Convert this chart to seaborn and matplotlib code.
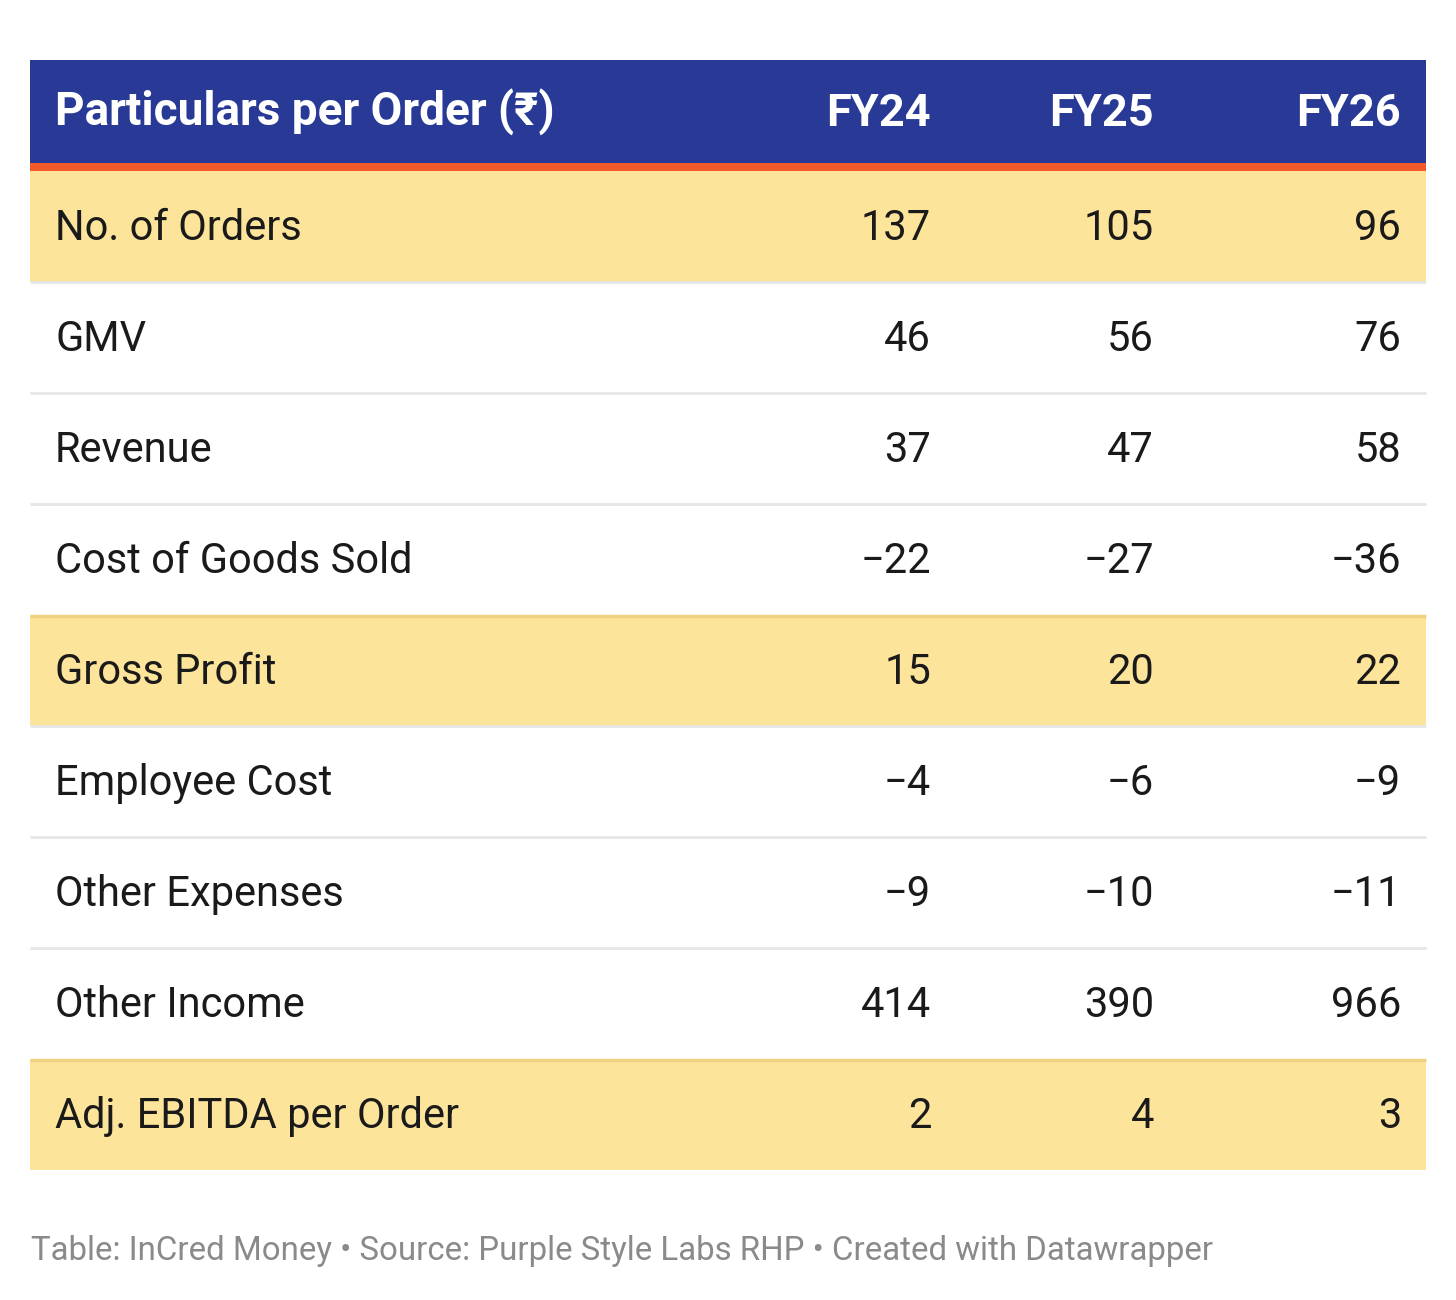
import matplotlib
matplotlib.use("Agg")
import matplotlib.pyplot as plt
import seaborn as sns
import pandas as pd

# ---- data ----
header_label = "Particulars per Order (₹)"
columns = ["FY24", "FY25", "FY26"]
categories = ["No. of Orders", "GMV", "Revenue", "Cost of Goods Sold", "Gross Profit",
              "Employee Cost", "Other Expenses", "Other Income", "Adj. EBITDA per Order"]
fy24 = [137, 46, 37, -22, 15, -4, -9, 414, 2]
fy25 = [105, 56, 47, -27, 20, -6, -10, 390, 4]
fy26 = [96, 76, 58, -36, 22, -9, -11, 966, 3]
highlight = [True, False, False, False, True, False, False, False, True]
footer = "Table: InCred Money • Source: Purple Style Labs RHP • Created with Datawrapper"

df = pd.DataFrame({"Particulars": categories, "FY24": fy24, "FY25": fy25, "FY26": fy26,
                   "highlight": highlight})

sns.set_theme(style="white")
plt.rcParams["font.family"] = ["Roboto", "DejaVu Sans"]

W, H = 1456, 1300
fig = plt.figure(figsize=(W / 100, H / 100), dpi=100)
fig.patch.set_facecolor("white")
ax = fig.add_axes([0, 0, 1, 1])
ax.set_xlim(0, W)
ax.set_ylim(H, 0)
ax.axis("off")

# layout
LEFT, RIGHT = 30, 1426
HEAD_TOP, HEAD_BOT = 60, 163
ORANGE_H = 8
ROW_TOP = HEAD_BOT + ORANGE_H
ROW_H = 111
LABEL_X = 55
COL_RIGHT = [931, 1154, 1401]

BLUE = "#283a96"
ORANGE = "#f15a29"
YELLOW = "#fde49b"
GOLD_LINE = "#f0d382"
GRAY_LINE = "#e6e6e6"
TEXT = "#1a1a1a"

# header
ax.barh(y=(HEAD_TOP + HEAD_BOT) / 2, width=RIGHT - LEFT, left=LEFT,
        height=HEAD_BOT - HEAD_TOP, color=BLUE, linewidth=0)
ax.barh(y=HEAD_BOT + ORANGE_H / 2, width=RIGHT - LEFT, left=LEFT,
        height=ORANGE_H, color=ORANGE, linewidth=0)
hc = (HEAD_TOP + HEAD_BOT) / 2
ax.text(LABEL_X, hc + 14.5, header_label, color="white", fontsize=33, fontweight="bold",
        ha="left", va="baseline")
for c, xr in zip(columns, COL_RIGHT):
    ax.text(xr, hc + 14.5, c, color="white", fontsize=32.5, fontweight="bold",
            ha="right", va="baseline")


def fmt(v):
    return f"{v}" if v >= 0 else f"\u2212{abs(v)}"


for i, row in df.iterrows():
    top = ROW_TOP + i * ROW_H
    bot = top + ROW_H
    cy = (top + bot) / 2
    if row["highlight"]:
        ax.barh(y=cy, width=RIGHT - LEFT, left=LEFT, height=ROW_H, color=YELLOW, linewidth=0)
        if i > 0:
            ax.plot([LEFT, RIGHT], [top + 1, top + 1], color=GOLD_LINE, lw=2.5,
                    solid_capstyle="butt")
    if i < len(df) - 1 and not highlight[i + 1]:
        ax.plot([LEFT, RIGHT], [bot, bot], color=GRAY_LINE, lw=2, solid_capstyle="butt")
    ax.text(LABEL_X, cy + 13.5, row["Particulars"], color=TEXT, fontsize=30,
            ha="left", va="baseline")
    for c, xr in zip(columns, COL_RIGHT):
        ax.text(xr, cy + 13.5, fmt(row[c]), color=TEXT, fontsize=30,
                ha="right", va="baseline")

ax.text(31, 1260, footer, color="#8a8a8a", fontsize=23.8, ha="left", va="baseline")

fig.savefig("out.png", dpi=100, facecolor="white")
